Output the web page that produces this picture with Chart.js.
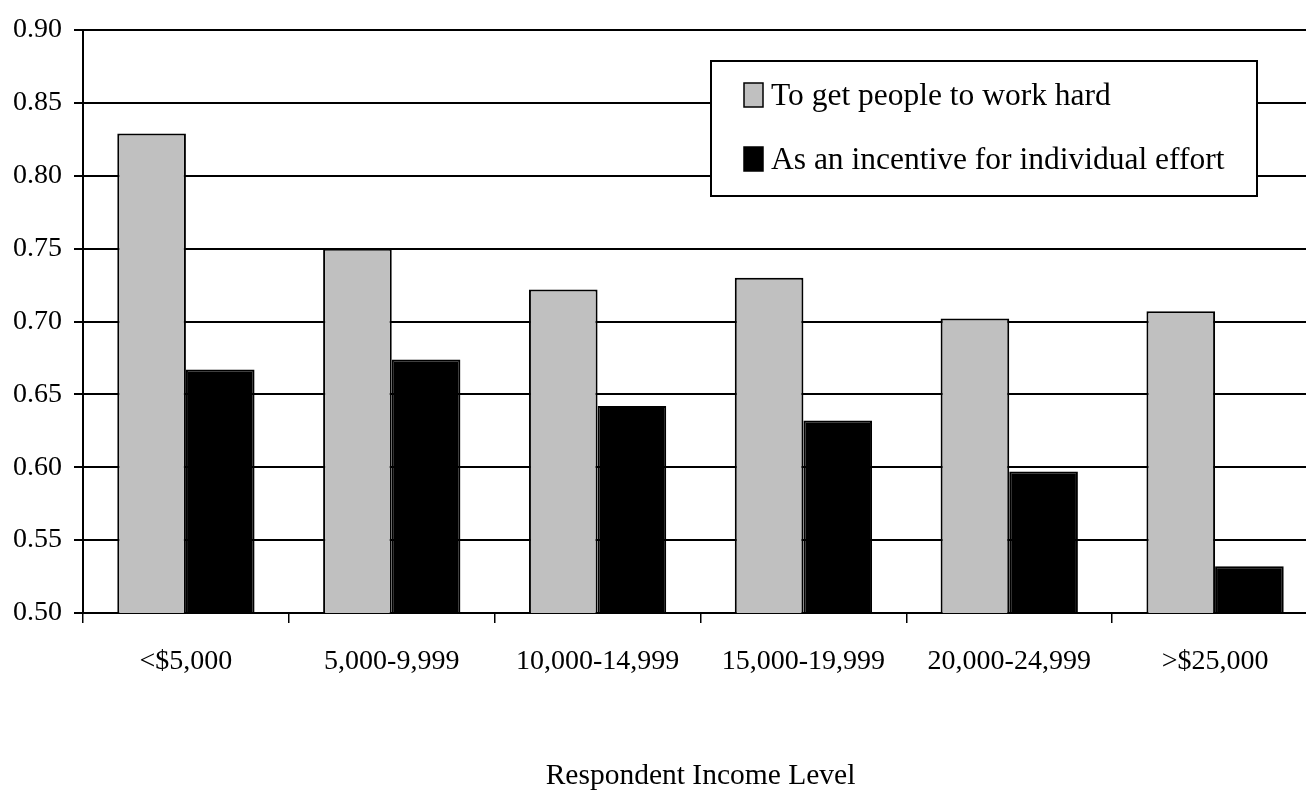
<!DOCTYPE html>
<html>
<head>
<meta charset="utf-8">
<script src="https://cdn.jsdelivr.net/npm/chart.js@4/dist/chart.umd.min.js"></script>
<style>
  html, body { margin: 0; padding: 0; background: #fff; overflow: hidden; }
  #wrap { width: 1330px; height: 791px; }
</style>
</head>
<body>
<div id="wrap"><canvas id="income-chart" width="1330" height="791"></canvas></div>
<script>
    "use strict";

    const categories = ['<$5,000', '5,000-9,999', '10,000-14,999', '15,000-19,999', '20,000-24,999', '>$25,000'];
    const workHard = [0.829, 0.750, 0.722, 0.730, 0.702, 0.707];
    const incentive = [0.667, 0.674, 0.642, 0.632, 0.597, 0.532];
    const seriesNames = ['To get people to work hard', 'As an incentive for individual effort'];
    const axisTitle = 'Respondent Income Level';

    const serif = "'Liberation Serif', 'Times New Roman', serif";

    // legend box drawn inside the plot, like the original
    const boxLegend = {
        id: 'boxLegend',
        afterDraw(chart) {
            const ctx = chart.ctx;
            const x = 711, y = 61, w = 546, h = 135;
            ctx.save();
            ctx.fillStyle = '#fff';
            ctx.fillRect(x, y, w, h);
            ctx.strokeStyle = '#000';
            ctx.lineWidth = 2;
            ctx.strokeRect(x, y, w, h);
            ctx.font = '31.5px ' + serif;
            ctx.textBaseline = 'alphabetic';
            chart.data.datasets.forEach(function(ds, i) {
                const rowY = 83 + i * 64;
                ctx.fillStyle = ds.backgroundColor;
                ctx.fillRect(744, rowY, 19, 24);
                ctx.lineWidth = 1.5;
                ctx.strokeStyle = '#000';
                ctx.strokeRect(744, rowY, 19, 24);
                ctx.fillStyle = '#000';
                ctx.fillText(ds.label, 771, rowY + 22);
            });
            ctx.restore();
        }
    };

    let incomeChart = document.getElementById('income-chart');
    if (incomeChart) {
        new Chart(incomeChart, {
            type: 'bar',
            data: {
                labels: categories,
                datasets: [{
                    label: seriesNames[0],
                    data: workHard,
                    backgroundColor: '#c0c0c0',
                    borderColor: '#000',
                    borderWidth: 2
                }, {
                    label: seriesNames[1],
                    data: incentive,
                    backgroundColor: '#000',
                    borderColor: '#000',
                    borderWidth: 2
                }]
            },
            options: {
                responsive: false,
                animation: false,
                categoryPercentage: 0.667,
                barPercentage: 1,
                layout: {
                    padding: { top: 30, right: 12, left: 0, bottom: 0 }
                },
                plugins: {
                    legend: { display: false },
                    tooltip: { enabled: false }
                },
                scales: {
                    x: {
                        afterFit: function(scale) { scale.height = 178; },
                        grid: {
                            offset: true,
                            drawOnChartArea: false,
                            tickLength: 10,
                            color: '#000',
                            lineWidth: 1.5
                        },
                        border: { display: true, color: '#000', width: 2 },
                        ticks: {
                            color: '#000',
                            padding: 22,
                            maxRotation: 0,
                            autoSkip: false,
                            font: { family: serif, size: 28 }
                        },
                        title: {
                            display: true,
                            text: axisTitle,
                            color: '#000',
                            padding: { top: 0, bottom: 0 },
                            font: { family: serif, size: 29.5, lineHeight: 1 }
                        }
                    },
                    y: {
                        min: 0.5,
                        max: 0.9,
                        afterFit: function(scale) { scale.width = 83; },
                        grid: {
                            color: '#000',
                            lineWidth: 2,
                            tickLength: 9
                        },
                        border: { display: true, color: '#000', width: 2 },
                        ticks: {
                            stepSize: 0.05,
                            color: '#000',
                            padding: 12,
                            font: { family: serif, size: 28 },
                            callback: function(v) { return Number(v).toFixed(2); }
                        }
                    }
                }
            },
            plugins: [boxLegend]
        });
    }
</script>
</body>
</html>
